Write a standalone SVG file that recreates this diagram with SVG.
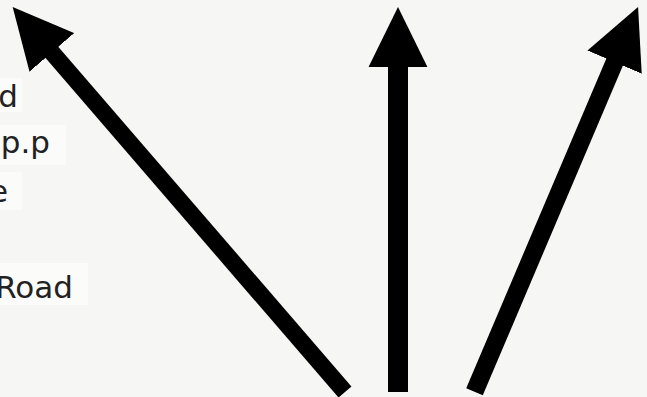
<svg xmlns="http://www.w3.org/2000/svg" width="647" height="397" viewBox="0 0 647 397">
<defs>
<style>
.lbl{font-family:"DejaVu Sans","Liberation Sans",sans-serif;font-size:31px;fill:#222;text-anchor:end}
.box{fill:#fbfbfa}
.shaft{stroke:#000;fill:none}
</style>
<marker id="head" markerUnits="userSpaceOnUse" markerWidth="60" markerHeight="60" viewBox="0 0 58 57" refX="2" refY="28.5" orient="auto">
<path d="M0,0 L58,28.5 L0,57 Z" fill="#000"/>
</marker>
</defs>
<rect width="647" height="397" fill="#f6f6f4"/>
<g id="labels">
<g id="label-d"><rect class="box" x="0" y="78" width="22" height="34"/><text class="lbl" x="18" y="107">d</text></g>
<g id="label-pp"><rect class="box" x="0" y="125" width="66" height="40"/><text class="lbl" x="50" y="153">p.p</text></g>
<g id="label-e"><rect class="box" x="0" y="172" width="22" height="38"/><text class="lbl" x="8" y="202">e</text></g>
<g id="label-road"><rect class="box" x="0" y="263" width="88" height="42"/><text class="lbl" x="73" y="298">Road</text></g>
</g>
<g id="connectors">
<line class="shaft" x1="345" y1="392" x2="50.5" y2="50.8" stroke-width="17" marker-end="url(#head)"/>
<line class="shaft" x1="398" y1="392" x2="398" y2="65" stroke-width="20" marker-end="url(#head)"/>
<line class="shaft" x1="474.5" y1="391.7" x2="615.4" y2="60.2" stroke-width="18" marker-end="url(#head)"/>
</g>
</svg>
